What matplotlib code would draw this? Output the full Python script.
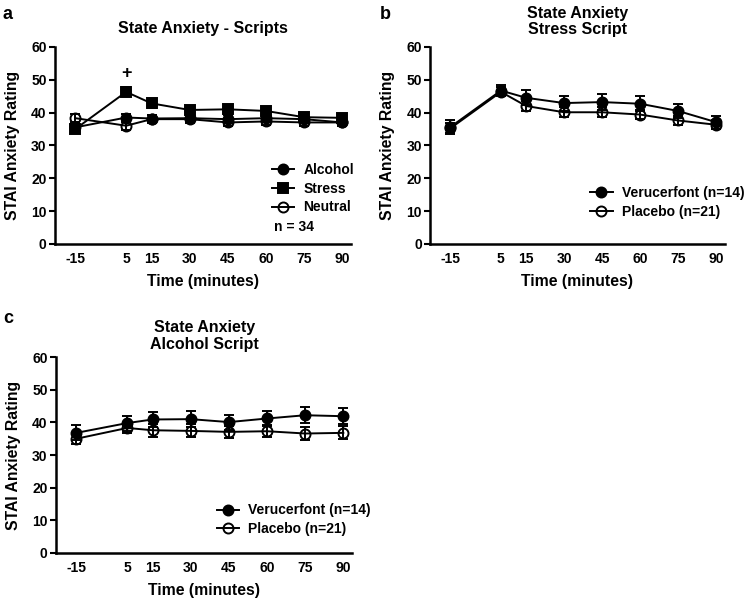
import matplotlib
matplotlib.use("Agg")
import matplotlib.pyplot as plt
from matplotlib.lines import Line2D

plt.rcParams["font.family"] = ["Liberation Sans", "DejaVu Sans"]
plt.rcParams["font.weight"] = "bold"

# ── data ──────────────────────────────────────────────────────────────────────
time = [-15, 5, 15, 30, 45, 60, 75, 90]

# panel a: all scripts (n = 34)
alcohol_a = [35.5, 38.5, 38.2, 38.3, 38.0, 38.3, 38.0, 37.0]
alcohol_a_se = [1.2, 1.2, 1.2, 1.2, 1.2, 1.2, 1.2, 1.2]
stress_a = [35.0, 46.3, 42.8, 40.8, 41.0, 40.5, 38.6, 38.4]
stress_a_se = [1.2, 1.4, 1.3, 1.3, 1.3, 1.3, 1.2, 1.2]
neutral_a = [38.3, 36.0, 38.0, 38.0, 37.0, 37.3, 37.0, 37.0]
neutral_a_se = [1.2, 1.2, 1.2, 1.2, 1.2, 1.2, 1.2, 1.2]

# panel b: stress script
veru_b = [35.6, 46.7, 44.5, 42.9, 43.2, 42.7, 40.5, 37.1]
veru_b_se = [2.0, 1.8, 2.3, 2.3, 2.4, 2.2, 2.0, 2.0]
plac_b = [35.2, 46.3, 42.0, 40.1, 40.1, 39.4, 37.6, 36.3]
plac_b_se = [1.5, 1.4, 1.5, 1.5, 1.5, 1.5, 1.5, 1.3]

# panel c: alcohol script
veru_c = [36.8, 39.8, 40.9, 41.0, 40.1, 41.2, 42.2, 41.9]
veru_c_se = [2.3, 2.3, 2.3, 2.4, 2.3, 2.3, 2.4, 2.4]
plac_c = [35.0, 38.3, 37.6, 37.4, 37.1, 37.3, 36.6, 36.8]
plac_c_se = [1.7, 1.6, 2.0, 2.0, 1.9, 1.9, 2.0, 2.0]

LW = 1.4
MS = 7.2


def series(ax, y, se, marker, filled):
    ax.errorbar(time, y, yerr=se, color="black", lw=LW, elinewidth=LW,
                capsize=3.4, capthick=LW, marker=marker, ms=MS,
                mfc="black" if filled else "none", mec="black", mew=1.4,
                clip_on=False, zorder=3)


def style_ax(ax, title, tpad=10):
    ax.set_xlim(-23, 93.5)
    ax.set_ylim(0, 60)
    ax.set_xticks(time)
    ax.set_xticklabels([str(t) for t in time])
    ax.set_yticks(range(0, 61, 10))
    for s in ["top", "right"]:
        ax.spines[s].set_visible(False)
    for s in ["left", "bottom"]:
        ax.spines[s].set_linewidth(1.8)
    ax.tick_params(axis="x", length=0, pad=5.5, labelsize=10)
    ax.tick_params(axis="y", length=4, width=1.5, pad=2, labelsize=10)
    ax.set_xlabel("Time (minutes)", fontsize=11.3, fontweight="bold", labelpad=6)
    ax.set_ylabel("STAI Anxiety Rating", fontsize=11.3, fontweight="bold", labelpad=8)
    ax.set_title(title, fontsize=11.5, fontweight="bold", pad=tpad, linespacing=1.12)


def legend_handle(marker, filled):
    return Line2D([], [], color="black", lw=LW, marker=marker, ms=MS,
                  mfc="black" if filled else "none", mec="black", mew=1.4)


fig = plt.figure(figsize=(7.48, 5.99), dpi=100)
ax_a = fig.add_axes([0.0735, 0.5927, 0.396, 0.329])
ax_b = fig.add_axes([0.575, 0.5927, 0.394, 0.329])
ax_c = fig.add_axes([0.0749, 0.0768, 0.396, 0.327])

leg_kw = dict(loc="center left", frameon=False, fontsize=10, handlelength=1.6,
              handletextpad=0.65, labelspacing=0.33, borderpad=0)

# ── panel a ──────────────────────────────────────────────────────────────────
series(ax_a, alcohol_a, alcohol_a_se, "o", True)
series(ax_a, stress_a, stress_a_se, "s", True)
series(ax_a, neutral_a, neutral_a_se, "o", False)
style_ax(ax_a, "State Anxiety - Scripts")
ax_a.text(5, 52, "+", ha="center", va="center", fontsize=13, fontweight="bold")
ax_a.legend([legend_handle("o", True), legend_handle("s", True), legend_handle("o", False)],
            ["Alcohol", "Stress", "Neutral"], bbox_to_anchor=(0.71, 0.28), **leg_kw)
ax_a.text(0.74, 0.085, "n = 34", transform=ax_a.transAxes, fontsize=10,
          fontweight="bold", va="center")

# ── panel b ──────────────────────────────────────────────────────────────────
series(ax_b, veru_b, veru_b_se, "o", True)
series(ax_b, plac_b, plac_b_se, "o", False)
style_ax(ax_b, "State Anxiety\nStress Script", tpad=9)
ax_b.legend([legend_handle("o", True), legend_handle("o", False)],
            ["Verucerfont (n=14)", "Placebo (n=21)"], bbox_to_anchor=(0.52, 0.21), **leg_kw)

# ── panel c ──────────────────────────────────────────────────────────────────
series(ax_c, veru_c, veru_c_se, "o", True)
series(ax_c, plac_c, plac_c_se, "o", False)
style_ax(ax_c, "State Anxiety\nAlcohol Script", tpad=6)
ax_c.legend([legend_handle("o", True), legend_handle("o", False)],
            ["Verucerfont (n=14)", "Placebo (n=21)"], bbox_to_anchor=(0.52, 0.17), **leg_kw)

# panel letters
fig.text(0.004, 0.99, "a", fontsize=13, fontweight="bold", va="top")
fig.text(0.508, 0.99, "b", fontsize=13, fontweight="bold", va="top")
fig.text(0.004, 0.483, "c", fontsize=13, fontweight="bold", va="top")

fig.savefig("out.png", dpi=100)
